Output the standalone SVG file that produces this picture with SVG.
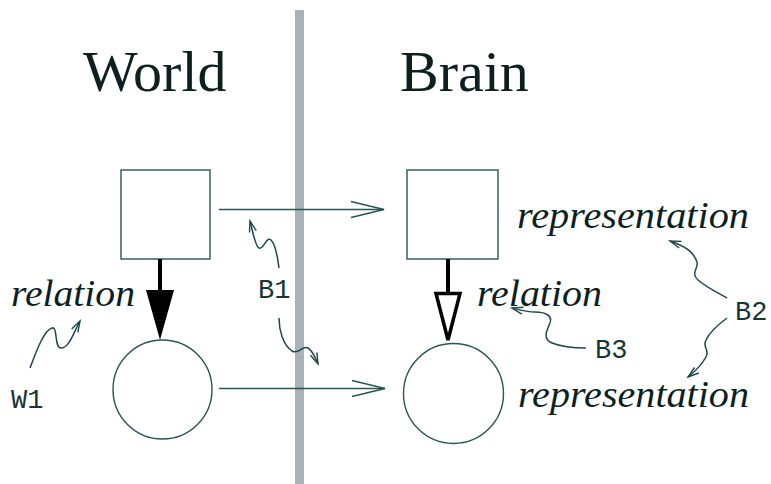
<svg xmlns="http://www.w3.org/2000/svg" width="771" height="484" viewBox="0 0 771 484">
<style>
.title{font-family:"Liberation Serif","Times New Roman",serif;font-size:58px;fill:#0d1f1f}
.it{font-family:"Liberation Serif","Times New Roman",serif;font-style:italic;font-size:38px;fill:#0d1f1f}
.mono{font-family:"Liberation Mono","Courier New",monospace;font-size:27px;fill:#1a3535}
.node{fill:#fff;stroke:#2a5555;stroke-width:1.4}
.conn{fill:none;stroke:#2a5555;stroke-width:1.4}
.sq{fill:none;stroke:#1f4848;stroke-width:1.5}
.thick{stroke:#000;stroke-width:4}
</style>
<defs>
<marker id="open" markerUnits="userSpaceOnUse" markerWidth="40" markerHeight="24" viewBox="-36 -12 40 24" refX="0" refY="0" orient="auto">
<path d="M-33,-8 L0,0 L-33,8" fill="none" stroke="#2a5555" stroke-width="1.4"/>
</marker>
<marker id="small" markerUnits="userSpaceOnUse" markerWidth="16" markerHeight="12" viewBox="-14 -6 16 12" refX="0" refY="0" orient="auto">
<path d="M-11,-3.5 L0,0 L-11,3.5" fill="none" stroke="#1f4848" stroke-width="1.4"/>
</marker>
</defs>
<rect x="295" y="10" width="9" height="474" fill="#aab2b8"/>
<text class="title" x="83" y="91">World</text>
<text class="title" x="400" y="91">Brain</text>
<g id="world-square"><rect class="node" x="121" y="170" width="89" height="89"/></g>
<g id="world-circle"><circle class="node" cx="162.5" cy="389.5" r="49.5"/></g>
<g id="brain-square"><rect class="node" x="407" y="170" width="91" height="89"/></g>
<g id="brain-circle"><circle class="node" cx="453.5" cy="393.5" r="50"/></g>
<g id="connectors">
<line class="conn" x1="219" y1="209.5" x2="384" y2="209.5" marker-end="url(#open)"/>
<line class="conn" x1="219" y1="388.5" x2="385" y2="388.5" marker-end="url(#open)"/>
<line class="thick" x1="160" y1="259" x2="160" y2="291"/>
<polygon points="146,290 174,290 160,340" fill="#000"/>
<line class="thick" x1="448" y1="259" x2="448" y2="293"/>
<polygon points="436,293.5 460,293.5 448,340" fill="#fff" stroke="#000" stroke-width="3.5" stroke-linejoin="miter"/>
</g>
<g id="labels">
<text class="it" x="11" y="306" textLength="124" lengthAdjust="spacingAndGlyphs">relation</text>
<text class="it" x="477" y="306" textLength="125" lengthAdjust="spacingAndGlyphs">relation</text>
<text class="it" x="517" y="228" textLength="232" lengthAdjust="spacingAndGlyphs">representation</text>
<text class="it" x="518" y="407" textLength="231" lengthAdjust="spacingAndGlyphs">representation</text>
<text class="mono" x="11" y="408">W1</text>
<text class="mono" x="258" y="298">B1</text>
<text class="mono" x="595" y="358">B3</text>
<text class="mono" x="735" y="320">B2</text>
</g>
<g id="squiggles">
<path class="sq" d="M30,368 C36,352 44,330 52,328 C58,326 54,348 61,348 C69,348 73,334 80,321" marker-end="url(#small)"/>
<path class="sq" d="M279,268 C278,260 276,245 271,240 C266,236 264,250 259,248 C255,246 253,232 250,221" marker-end="url(#small)"/>
<path class="sq" d="M279,318 C279,330 283,345 292,351 C299,355 302,345 308,348 C313,351 315,357 318,364" marker-end="url(#small)"/>
<path class="sq" d="M586,348 C575,348 562,347 552,343 C542,339 547,330 550,323 C553,315 544,312 535,312 C527,312 520,310 512,308" marker-end="url(#small)"/>
<path class="sq" d="M727,298 C718,293 706,287 698,280 C690,273 699,268 697,262 C694,254 690,248 670,241" marker-end="url(#small)"/>
<path class="sq" d="M727,318 C719,324 710,331 706,340 C702,347 710,350 706,357 C702,364 697,370 688,377" marker-end="url(#small)"/>
</g>
</svg>
